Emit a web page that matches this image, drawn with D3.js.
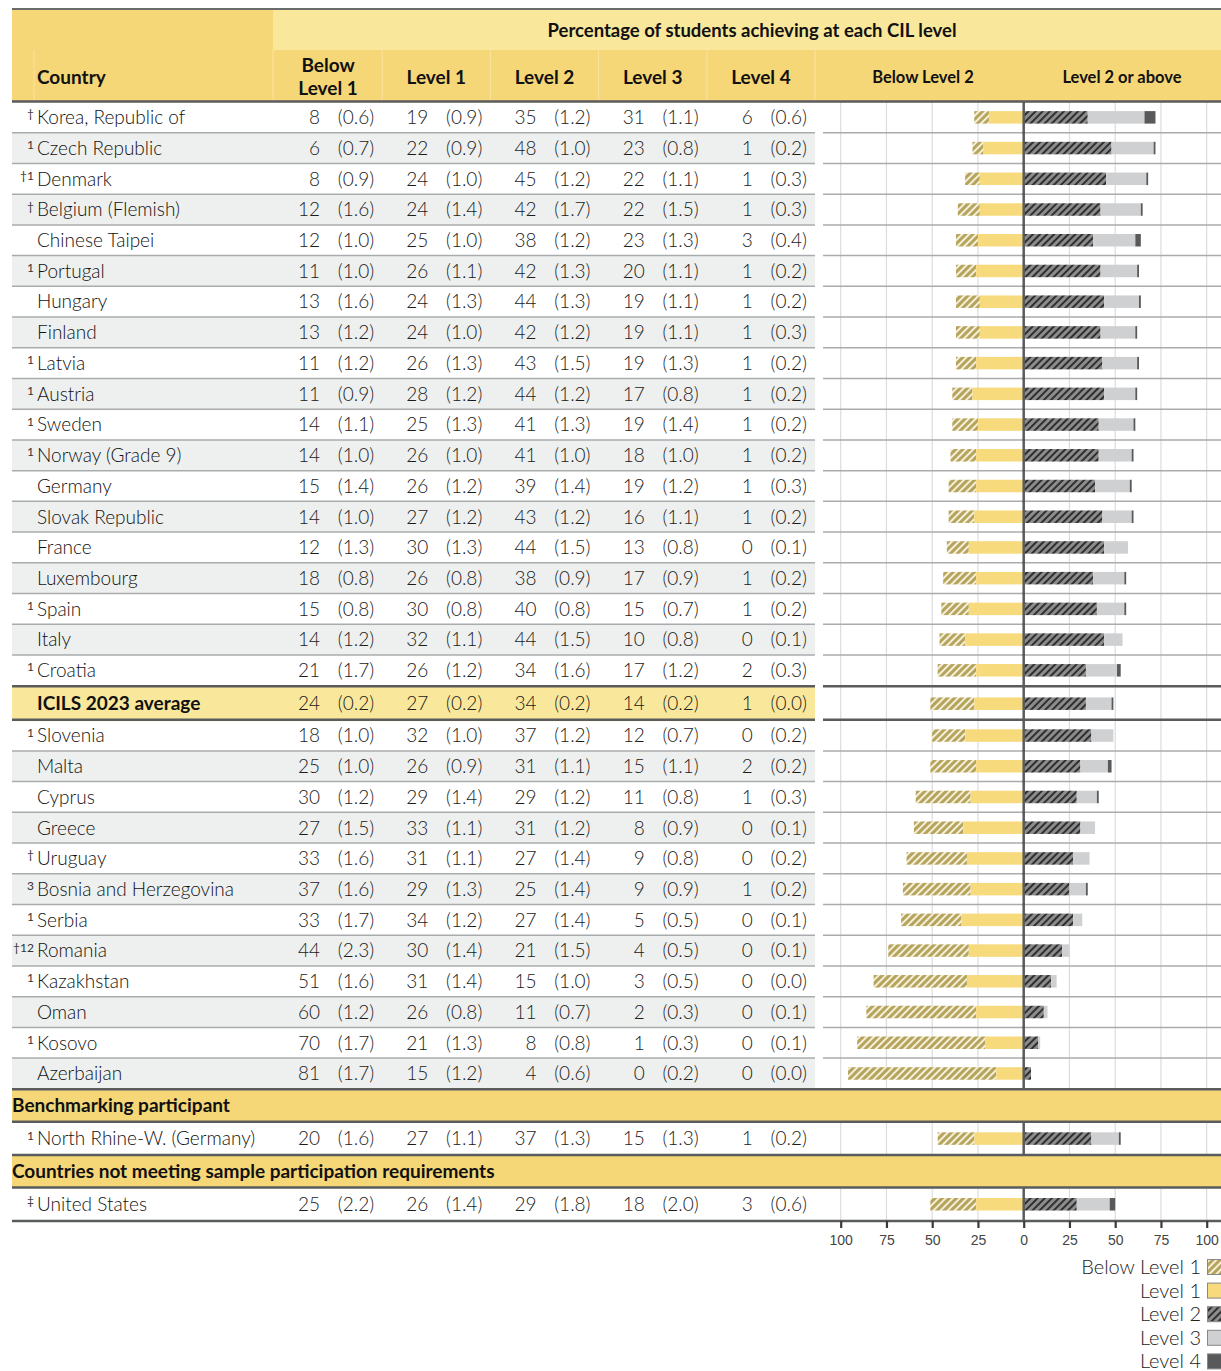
<!DOCTYPE html>
<html><head><meta charset="utf-8">
<script src="https://cdn.jsdelivr.net/npm/d3@7"></script>
<style>body{margin:0;background:#fff}</style>
</head><body><svg id="c" width="1221" height="1371"></svg>
<script>
// ---------------- DATA ----------------
const countries = ["Korea, Republic of","Czech Republic","Denmark","Belgium (Flemish)","Chinese Taipei","Portugal","Hungary","Finland","Latvia","Austria","Sweden","Norway (Grade 9)","Germany","Slovak Republic","France","Luxembourg","Spain","Italy","Croatia","ICILS 2023 average","Slovenia","Malta","Cyprus","Greece","Uruguay","Bosnia and Herzegovina","Serbia","Romania","Kazakhstan","Oman","Kosovo","Azerbaijan","North Rhine-W. (Germany)","United States"];
const notes = ["†","1","†1","†","","1","","","1","1","1","1","","","","","1","","1","","1","","","","†","3","1","†12","1","","1","","1","‡"];
const rowKind = ["c","c","c","c","c","c","c","c","c","c","c","c","c","c","c","c","c","c","c","avg","c","c","c","c","c","c","c","c","c","c","c","c","bench","nonmeet"];
const belowL1   = [8,6,8,12,12,11,13,13,11,11,14,14,15,14,12,18,15,14,21,24,18,25,30,27,33,37,33,44,51,60,70,81,20,25];
const belowL1SE = ["0.6","0.7","0.9","1.6","1.0","1.0","1.6","1.2","1.2","0.9","1.1","1.0","1.4","1.0","1.3","0.8","0.8","1.2","1.7","0.2","1.0","1.0","1.2","1.5","1.6","1.6","1.7","2.3","1.6","1.2","1.7","1.7","1.6","2.2"];
const level1    = [19,22,24,24,25,26,24,24,26,28,25,26,26,27,30,26,30,32,26,27,32,26,29,33,31,29,34,30,31,26,21,15,27,26];
const level1SE  = ["0.9","0.9","1.0","1.4","1.0","1.1","1.3","1.0","1.3","1.2","1.3","1.0","1.2","1.2","1.3","0.8","0.8","1.1","1.2","0.2","1.0","0.9","1.4","1.1","1.1","1.3","1.2","1.4","1.4","0.8","1.3","1.2","1.1","1.4"];
const level2    = [35,48,45,42,38,42,44,42,43,44,41,41,39,43,44,38,40,44,34,34,37,31,29,31,27,25,27,21,15,11,8,4,37,29];
const level2SE  = ["1.2","1.0","1.2","1.7","1.2","1.3","1.3","1.2","1.5","1.2","1.3","1.0","1.4","1.2","1.5","0.9","0.8","1.5","1.6","0.2","1.2","1.1","1.2","1.2","1.4","1.4","1.4","1.5","1.0","0.7","0.8","0.6","1.3","1.8"];
const level3    = [31,23,22,22,23,20,19,19,19,17,19,18,19,16,13,17,15,10,17,14,12,15,11,8,9,9,5,4,3,2,1,0,15,18];
const level3SE  = ["1.1","0.8","1.1","1.5","1.3","1.1","1.1","1.1","1.3","0.8","1.4","1.0","1.2","1.1","0.8","0.9","0.7","0.8","1.2","0.2","0.7","1.1","0.8","0.9","0.8","0.9","0.5","0.5","0.5","0.3","0.3","0.2","1.3","2.0"];
const level4    = [6,1,1,1,3,1,1,1,1,1,1,1,1,1,0,1,1,0,2,1,0,2,1,0,0,1,0,0,0,0,0,0,1,3];
const level4SE  = ["0.6","0.2","0.3","0.3","0.4","0.2","0.2","0.3","0.2","0.2","0.2","0.2","0.3","0.2","0.1","0.2","0.2","0.1","0.3","0.0","0.2","0.2","0.3","0.1","0.2","0.2","0.1","0.1","0.0","0.1","0.1","0.0","0.2","0.6"];
const sectionLabels = {bench:"Benchmarking participant", nonmeet:"Countries not meeting sample participation requirements"};
const levelHeaders = [["Below","Level 1"],["Level 1"],["Level 2"],["Level 3"],["Level 4"]];
const levelNames = ["Below Level 1","Level 1","Level 2","Level 3","Level 4"];
const titleText = "Percentage of students achieving at each CIL level";
const tickValues = [-100,-75,-50,-25,0,25,50,75,100];

// ---------------- LAYOUT ----------------
const svg = d3.select("#c");
const FONT = "Lato, 'Noto Sans', sans-serif";
const L = 12, R = 1221, tableR = 815, barL = 823;
const x = d3.scaleLinear().domain([-100,100]).range([840.7,1206.7]);
const col = d3.scaleBand().domain(d3.range(5)).range([274,815]);
const cols = [belowL1,level1,level2,level3,level4];
const colsSE = [belowL1SE,level1SE,level2SE,level3SE,level4SE];

const C = {yellowDark:"#f6d778", yellowLight:"#f9e89c", alt:"#eef0ef", sep:"#a9abad", thick:"#5a5b5d",
  l1:"#f7da7c", l3:"#cfd0d2", l4:"#58595b"};

// patterns
const defs = svg.append("defs");
function hatch(id, bg, fg, sw){
  const p = defs.append("pattern").attr("id",id).attr("patternUnits","userSpaceOnUse")
    .attr("width",5).attr("height",5).attr("patternTransform","rotate(45)");
  p.append("rect").attr("width",5).attr("height",5).attr("fill",bg);
  p.append("line").attr("x1",1).attr("y1",0).attr("x2",1).attr("y2",5).attr("stroke",fg).attr("stroke-width",sw);
}
hatch("hBL1","#b6a45c","#f4efd9",2);
hatch("hL2","#8c8c8c","#1e1e1e",1.7);

// header
const H1 = 10, H2 = 50, H3 = 101;
svg.append("rect").attr("x",L).attr("y",H1).attr("width",273-L).attr("height",H2-H1).attr("fill",C.yellowDark);
svg.append("rect").attr("x",273).attr("y",H1).attr("width",R-273).attr("height",H2-H1).attr("fill",C.yellowLight);
svg.append("rect").attr("x",L).attr("y",H2).attr("width",R-L).attr("height",H3-H2).attr("fill",C.yellowDark);
[34,273].concat(d3.range(1,5).map(i=>col(i))).concat([tableR]).forEach(xx=>{
  svg.append("line").attr("x1",xx).attr("x2",xx).attr("y1",H2).attr("y2",H3).attr("stroke","#f9e3a0").attr("stroke-width",1);
});
svg.append("text").attr("x",752).attr("y",36.5).attr("text-anchor","middle").attr("font-family",FONT)
  .attr("font-weight",700).attr("font-size",18.5).attr("fill","#111").text(titleText);
svg.append("text").attr("x",37).attr("y",84).attr("font-family",FONT).attr("font-weight",700)
  .attr("font-size",19).attr("fill","#111").text("Country");
levelHeaders.forEach((lines,i)=>{
  const cx = col(i)+col.bandwidth()/2;
  const y0 = lines.length===2 ? 71.5 : 83.5;
  lines.forEach((t,k)=>svg.append("text").attr("x",cx).attr("y",y0+k*23).attr("text-anchor","middle")
    .attr("font-family",FONT).attr("font-weight",700).attr("font-size",19).attr("fill","#111").text(t));
});
svg.append("text").attr("x",923).attr("y",83).attr("text-anchor","middle").attr("font-family",FONT)
  .attr("font-weight",700).attr("font-size",16.5).attr("fill","#111").text("Below Level 2");
svg.append("text").attr("x",1122).attr("y",83).attr("text-anchor","middle").attr("font-family",FONT)
  .attr("font-weight",700).attr("font-size",16.5).attr("fill","#111").text("Level 2 or above");

// compute row geometry
const rows = [];
let yy = 102, altIdx = 0;
const thickLines = [];
thickLines.push({y:101.5, gap:false});
countries.forEach((c,i)=>{
  const k = rowKind[i];
  if (k==="avg"){
    thickLines.push({y:yy+0.5, gap:true});
    rows.push({i, top:yy+1.5, h:33, kind:k});
    yy += 34.5;
    thickLines.push({y:yy-0.5, gap:true});
    altIdx = 0;
  } else if (k==="bench" || k==="nonmeet"){
    thickLines.push({y:yy+0.5, gap:false});
    rows.push({section:sectionLabels[k], top:yy+1.5, h:31});
    yy += 33;
    thickLines.push({y:yy, gap:false});
    rows.push({i, top:yy+1, h:31.5, kind:k});
    yy += 32.7;
  } else {
    rows.push({i, top:yy, h:30.72, kind:k, alt: altIdx%2===1});
    altIdx++;
    yy += 30.72;
  }
});
thickLines.push({y:1221, gap:false});

// backgrounds
rows.forEach(r=>{
  if (r.section){
    svg.append("rect").attr("x",L).attr("y",r.top-1).attr("width",R-L).attr("height",r.h+2).attr("fill",C.yellowDark);
    svg.append("text").attr("x",L).attr("y",r.top+r.h/2+6.5).attr("font-family",FONT).attr("font-weight",700)
      .attr("font-size",19).attr("fill","#111").text(r.section);
  } else if (r.kind==="avg"){
    svg.append("rect").attr("x",L).attr("y",r.top-1).attr("width",tableR-L).attr("height",r.h+2).attr("fill",C.yellowLight);
  } else if (r.alt){
    svg.append("rect").attr("x",L).attr("y",r.top).attr("width",tableR-L).attr("height",r.h).attr("fill",C.alt);
  }
});

const bodyRows = rows.filter(r=>!r.section);

// gridlines in bar area
bodyRows.forEach(r=>{
  tickValues.forEach(t=>{
    if (t===0) return;
    svg.append("line").attr("x1",x(t)).attr("x2",x(t)).attr("y1",r.top).attr("y2",r.top+r.h)
      .attr("stroke","#dcdcdc").attr("stroke-width",1.2);
  });
});

// row separators
bodyRows.forEach((r,k)=>{
  const next = bodyRows[k+1];
  if (!next || r.kind!=="c" || next.kind!=="c") return;
  const ys = r.top + r.h;
  svg.append("line").attr("x1",L).attr("x2",tableR).attr("y1",ys).attr("y2",ys).attr("stroke",C.sep).attr("stroke-width",1.5);
  svg.append("line").attr("x1",barL).attr("x2",R).attr("y1",ys).attr("y2",ys).attr("stroke",C.sep).attr("stroke-width",1.5);
});

// bars
const barH = 12.5;
bodyRows.forEach(r=>{
  const i = r.i, cy = r.top + r.h/2, g = svg.append("g");
  const segs = [
    {a:-(level1[i]+belowL1[i]), b:-level1[i], fill:"url(#hBL1)"},
    {a:-level1[i], b:0, fill:C.l1},
    {a:0, b:level2[i], fill:"url(#hL2)"},
    {a:level2[i], b:level2[i]+level3[i], fill:C.l3},
    {a:level2[i]+level3[i], b:level2[i]+level3[i]+level4[i], fill:C.l4}
  ];
  segs.forEach(s=>{
    if (s.b-s.a<=0) return;
    g.append("rect").attr("x",x(s.a)).attr("y",cy-barH/2).attr("width",x(s.b)-x(s.a)).attr("height",barH).attr("fill",s.fill);
  });
  svg.append("line").attr("x1",x(0)).attr("x2",x(0)).attr("y1",r.top-1).attr("y2",r.top+r.h+1)
    .attr("stroke",C.thick).attr("stroke-width",2.5);
});

// texts
bodyRows.forEach(r=>{
  const i = r.i, cy = r.top + r.h/2, base = cy + 6.8;
  const isAvg = r.kind==="avg";
  if (notes[i]) svg.append("text").attr("x",34).attr("y",cy+1).attr("text-anchor","end").attr("font-family",FONT)
    .attr("font-size",12).attr("fill","#333").text(notes[i]);
  svg.append("text").attr("x",37).attr("y",base).attr("font-family",FONT)
    .attr("font-weight",isAvg?700:300).attr("font-size",19).attr("fill","#111").text(countries[i]);
  cols.forEach((arr,c)=>{
    const cx = col(c)+col.bandwidth()/2;
    svg.append("text").attr("x",cx-8).attr("y",base).attr("text-anchor","end").attr("font-family",FONT)
      .attr("font-weight",300).attr("font-size",19).attr("fill","#1a1a1a").text(arr[i]);
    svg.append("text").attr("x",cx+46).attr("y",base).attr("text-anchor","end").attr("font-family",FONT)
      .attr("font-weight",300).attr("font-size",19).attr("fill","#1a1a1a").text("("+colsSE[c][i]+")");
  });
});

// thick lines
thickLines.forEach(t=>{
  if (t.gap){
    svg.append("line").attr("x1",L).attr("x2",tableR).attr("y1",t.y).attr("y2",t.y).attr("stroke",C.thick).attr("stroke-width",2.5);
    svg.append("line").attr("x1",barL).attr("x2",R).attr("y1",t.y).attr("y2",t.y).attr("stroke",C.thick).attr("stroke-width",2.5);
  } else {
    svg.append("line").attr("x1",L).attr("x2",R).attr("y1",t.y).attr("y2",t.y).attr("stroke",C.thick).attr("stroke-width",2.5);
  }
});
svg.append("line").attr("x1",L).attr("x2",R).attr("y1",9).attr("y2",9).attr("stroke","#6a6b6d").attr("stroke-width",2);

// axis
const ax = svg.append("g").attr("transform","translate(0,1221)")
  .call(d3.axisBottom(x).tickValues(tickValues).tickFormat(d=>Math.abs(d)).tickSize(7).tickPadding(7));
ax.select(".domain").remove();
ax.selectAll(".tick line").attr("stroke","#3a3a3a").attr("stroke-width",2.2);
ax.selectAll(".tick text").attr("font-family","'Liberation Sans', Arial, sans-serif").attr("font-size",14).attr("fill","#444");

// legend
const legFills = ["url(#hBL1)",C.l1,"url(#hL2)",C.l3,C.l4];
levelNames.forEach((n,k)=>{
  const cy = 1267 + k*23.6;
  svg.append("text").attr("x",1201).attr("y",cy+7).attr("text-anchor","end").attr("font-family",FONT)
    .attr("font-weight",300).attr("font-size",20).attr("fill","#222").text(n);
  svg.append("rect").attr("x",1207.5).attr("y",cy-7.5).attr("width",16).attr("height",15)
    .attr("fill",legFills[k]).attr("stroke","#888").attr("stroke-width",1);
});
</script></body></html>
